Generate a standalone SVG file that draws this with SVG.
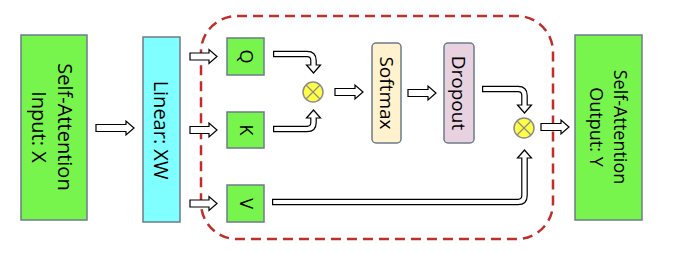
<svg xmlns="http://www.w3.org/2000/svg" width="675" height="254" viewBox="0 0 675 254">
<style>
  .box{stroke:#6E7B8B;stroke-width:1.5}
  .green{fill:#77F54C}
  .cyan{fill:#7FFFFF}
  .soft{fill:#FFF2CC}
  .drop{fill:#E8D2E0}
  .t{font-family:"Open Sans","Liberation Sans",sans-serif;fill:#000;text-anchor:middle}
  .arr{fill:#fff;stroke:#000;stroke-width:1.2;stroke-linejoin:miter}
  .po{fill:none;stroke:#000;stroke-width:6.6}
  .pi{fill:none;stroke:#fff;stroke-width:4.2}
  .mul circle{fill:#FFFF44;stroke:#8C8C8C;stroke-width:1.5}
  .mul line{stroke:#8C8C8C;stroke-width:1.3}
</style>
<rect x="201" y="16" width="352" height="223" rx="36" fill="none" stroke="#BF2E2A" stroke-width="2.5" stroke-dasharray="10 6"/>
<g id="input">
  <rect class="box green" x="21" y="35" width="66" height="185"/>
  <g transform="translate(54,127) rotate(90)">
    <text class="t" font-size="20" x="0" y="-4">Self-Attention</text>
    <text class="t" font-size="20" x="0" y="22">Input: X</text>
  </g>
</g>
<g id="linear">
  <rect class="box cyan" x="143" y="37" width="37" height="185"/>
  <text class="t" font-size="20" transform="translate(161,130) rotate(90)" x="0" y="7">Linear: XW</text>
</g>
<g id="q">
  <rect class="box green" x="227" y="38" width="37" height="37"/>
  <text class="t" font-size="18" transform="translate(245.5,56.5) rotate(90)" x="0" y="6">Q</text>
</g>
<g id="k">
  <rect class="box green" x="227" y="112" width="37" height="36"/>
  <text class="t" font-size="18" transform="translate(245.5,130) rotate(90)" x="0" y="6">K</text>
</g>
<g id="v">
  <rect class="box green" x="227" y="185" width="37" height="37"/>
  <text class="t" font-size="18" transform="translate(245.5,203.5) rotate(90)" x="0" y="6">V</text>
</g>
<g id="mul1" class="mul">
  <circle cx="313" cy="92" r="10"/>
  <line x1="306" y1="85" x2="320" y2="99"/>
  <line x1="320" y1="85" x2="306" y2="99"/>
</g>
<g id="softmax">
  <rect class="box soft" x="372" y="43" width="29" height="100" rx="4"/>
  <text class="t" font-size="19" transform="translate(386.5,93) rotate(90)" x="0" y="7">Softmax</text>
</g>
<g id="dropout">
  <rect class="box drop" x="444" y="43" width="30" height="100" rx="4"/>
  <text class="t" font-size="19" transform="translate(459,93) rotate(90)" x="0" y="7">Dropout</text>
</g>
<g id="mul2" class="mul">
  <circle cx="524" cy="128" r="10"/>
  <line x1="517" y1="121" x2="531" y2="135"/>
  <line x1="531" y1="121" x2="517" y2="135"/>
</g>
<g id="output">
  <rect class="box green" x="575" y="35" width="67" height="185"/>
  <g transform="translate(608,127) rotate(90)">
    <text class="t" font-size="18" x="0" y="-6">Self-Attention</text>
    <text class="t" font-size="18" x="0" y="18">Output: Y</text>
  </g>
</g>
<g id="connectors">
  <polygon class="arr" points="96,124.5 126,124.5 126,121 134,128 126,135 126,131.5 96,131.5"/>
  <polygon class="arr" points="190,53 209,53 209,49.5 217,56.5 209,63.5 209,60 190,60"/>
  <polygon class="arr" points="190,126.5 209,126.5 209,123 217,130 209,137 209,133.5 190,133.5"/>
  <polygon class="arr" points="190,200 209,200 209,196.5 217,203.5 209,210.5 209,207 190,207"/>
  <polygon class="arr" points="335,88.5 355,88.5 355,85 363,92 355,99 355,95.5 335,95.5"/>
  <polygon class="arr" points="408,89.5 428,89.5 428,86 436,93 428,100 428,96.5 408,96.5"/>
  <polygon class="arr" points="541,123.5 561,123.5 561,120 569,127 561,134 561,130.5 541,130.5"/>
  <path class="po" d="M273,54 H307 Q313.5,54 313.5,60.5 V66"/>
  <polygon class="arr" points="306.5,65 320.5,65 313.5,73"/>
  <path class="pi" d="M274.2,54 H307 Q313.5,54 313.5,60.5 V66.5"/>
  <path class="po" d="M273,129 H307 Q313.5,129 313.5,122.5 V117"/>
  <polygon class="arr" points="306.5,118 320.5,118 313.5,110"/>
  <path class="pi" d="M274.2,129 H307 Q313.5,129 313.5,122.5 V116.5"/>
  <path class="po" d="M482,89 H518 Q524.5,89 524.5,95.5 V106"/>
  <polygon class="arr" points="517.5,105 531.5,105 524.5,113"/>
  <path class="pi" d="M483.2,89 H518 Q524.5,89 524.5,95.5 V106.5"/>
  <path class="po" d="M272,202 H518 Q524.5,202 524.5,195.5 V157"/>
  <polygon class="arr" points="517.5,158 531.5,158 524.5,150"/>
  <path class="pi" d="M273.2,202 H518 Q524.5,202 524.5,195.5 V156.5"/>
</g>
</svg>
